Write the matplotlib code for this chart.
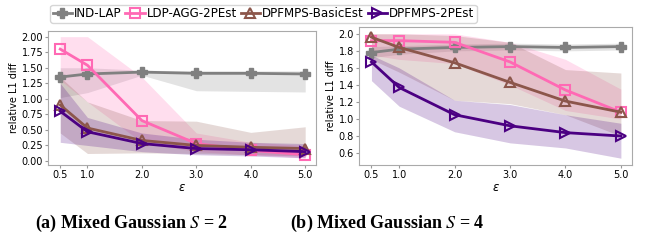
import matplotlib
matplotlib.use('Agg')
import matplotlib.pyplot as plt
import numpy as np

eps = [0.5, 1.0, 2.0, 3.0, 4.0, 5.0]
methods = ['IND-LAP', 'LDP-AGG-2PEst', 'DPFMPS-BasicEst', 'DPFMPS-2PEst']

# (a) Mixed Gaussian S=2
s2_mean = {
    'IND-LAP':         [1.35, 1.40, 1.43, 1.41, 1.41, 1.40],
    'LDP-AGG-2PEst':   [1.80, 1.54, 0.65, 0.28, 0.17, 0.10],
    'DPFMPS-BasicEst': [0.90, 0.53, 0.33, 0.25, 0.22, 0.20],
    'DPFMPS-2PEst':    [0.80, 0.47, 0.28, 0.20, 0.18, 0.15],
}
s2_low = {
    'IND-LAP':         [1.02, 1.10, 1.38, 1.13, 1.12, 1.11],
    'LDP-AGG-2PEst':   [1.30, 0.95, 0.30, 0.15, 0.10, 0.05],
    'DPFMPS-BasicEst': [0.45, 0.12, 0.13, 0.12, 0.10, 0.08],
    'DPFMPS-2PEst':    [0.30, 0.25, 0.15, 0.10, 0.08, 0.05],
}
s2_high = {
    'IND-LAP':         [1.50, 1.50, 1.46, 1.45, 1.45, 1.45],
    'LDP-AGG-2PEst':   [2.00, 2.00, 1.35, 0.45, 0.30, 0.25],
    'DPFMPS-BasicEst': [1.35, 0.95, 0.65, 0.64, 0.46, 0.55],
    'DPFMPS-2PEst':    [1.25, 0.70, 0.45, 0.35, 0.30, 0.28],
}

# (b) Mixed Gaussian S=4
s4_mean = {
    'IND-LAP':         [1.78, 1.82, 1.84, 1.85, 1.84, 1.85],
    'LDP-AGG-2PEst':   [1.92, 1.92, 1.90, 1.67, 1.34, 1.08],
    'DPFMPS-BasicEst': [1.96, 1.84, 1.66, 1.43, 1.21, 1.08],
    'DPFMPS-2PEst':    [1.67, 1.37, 1.05, 0.92, 0.84, 0.80],
}
s4_low = {
    'IND-LAP':         [1.72, 1.76, 1.80, 1.81, 1.80, 1.81],
    'LDP-AGG-2PEst':   [1.75, 1.70, 1.65, 1.40, 1.10, 1.00],
    'DPFMPS-BasicEst': [1.70, 1.55, 1.22, 1.18, 1.05, 0.80],
    'DPFMPS-2PEst':    [1.45, 1.15, 0.85, 0.72, 0.66, 0.54],
}
s4_high = {
    'IND-LAP':         [1.85, 1.86, 1.88, 1.89, 1.88, 1.89],
    'LDP-AGG-2PEst':   [2.00, 2.00, 2.00, 1.90, 1.70, 1.35],
    'DPFMPS-BasicEst': [2.00, 2.00, 1.98, 1.90, 1.58, 1.54],
    'DPFMPS-2PEst':    [1.75, 1.60, 1.22, 1.17, 1.05, 0.95],
}

colors = {'IND-LAP': '#808080', 'LDP-AGG-2PEst': '#ff69b4',
          'DPFMPS-BasicEst': '#8c564b', 'DPFMPS-2PEst': '#4b0082'}
markers = {'IND-LAP': 'P', 'LDP-AGG-2PEst': 's',
           'DPFMPS-BasicEst': '^', 'DPFMPS-2PEst': '>'}

plt.rcParams['mathtext.fontset'] = 'stix'

fig = plt.figure(figsize=(6.46, 2.4), dpi=100)
ax1 = fig.add_axes([0.0743, 0.3125, 0.415, 0.558])
ax2 = fig.add_axes([0.5557, 0.3125, 0.4226, 0.575])


def draw(ax, mean, low, high):
    for m in methods:
        c = colors[m]
        ax.fill_between(eps, low[m], high[m], color=c, alpha=0.22, linewidth=0)
        if m == 'IND-LAP':
            ax.plot(eps, mean[m], color=c, marker=markers[m], lw=2, ms=7.5, label=m)
        else:
            ax.plot(eps, mean[m], color=c, marker=markers[m], lw=2, ms=6.5,
                    markerfacecolor='none', markeredgewidth=1.5, label=m)
    ax.set_xticks(eps)
    ax.set_xticklabels(['%.1f' % e for e in eps])
    ax.set_xlim(0.275, 5.2)
    ax.set_xlabel('ε', fontsize=8.5, labelpad=1, fontstyle='italic')
    ax.set_ylabel('relative L1 diff', fontsize=7, labelpad=2)
    ax.tick_params(labelsize=7, length=2, pad=1.5, color='#999999')
    for s in ax.spines.values():
        s.set_color('#aaaaaa')


draw(ax1, s2_mean, s2_low, s2_high)
ax1.set_ylim(-0.065, 2.09)
ax1.set_yticks(np.arange(0, 2.01, 0.25))
ax1.yaxis.set_major_formatter(plt.FormatStrFormatter('%.2f'))

draw(ax2, s4_mean, s4_low, s4_high)
ax2.set_ylim(0.46, 2.08)
ax2.set_yticks(np.arange(0.6, 2.01, 0.2))
ax2.yaxis.set_major_formatter(plt.FormatStrFormatter('%.1f'))

h, l = ax1.get_legend_handles_labels()
fig.legend(h, l, loc='upper center', bbox_to_anchor=(0.408, 1.005), ncol=4,
           fontsize=8.6, handlelength=1.6, handletextpad=0.2, columnspacing=0.3,
           borderpad=0.2, frameon=True)

fig.text(0.203, 0.07, r'(a) Mixed Gaussian $S$ = 2', ha='center', va='center',
         fontsize=13, fontweight='bold', family='Liberation Serif')
fig.text(0.599, 0.07, r'(b) Mixed Gaussian $S$ = 4', ha='center', va='center',
         fontsize=13, fontweight='bold', family='Liberation Serif')

fig.savefig('out.png', dpi=100)
